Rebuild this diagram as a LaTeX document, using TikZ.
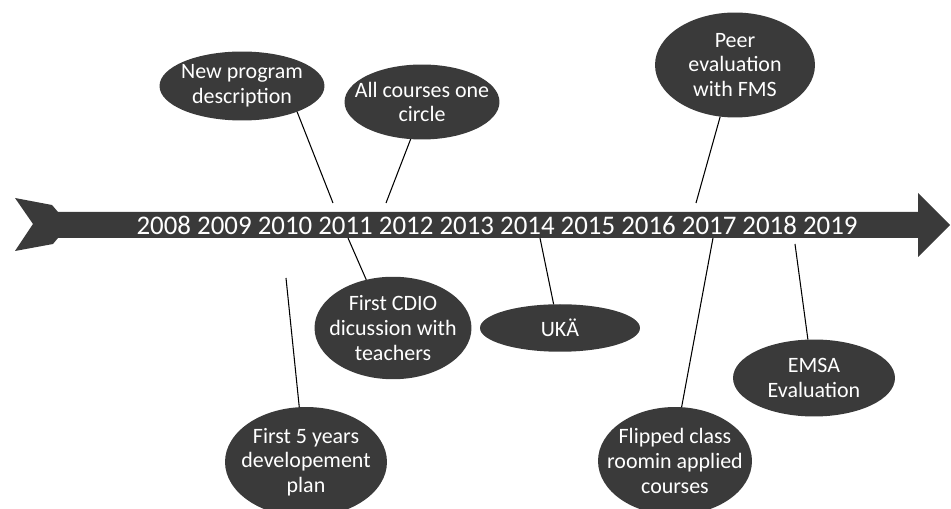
\documentclass[tikz,border=0pt]{standalone}
\usepackage{fontspec}
\setmainfont{Carlito}
\usetikzlibrary{shapes.geometric}
\definecolor{bubblegray}{RGB}{58,58,58}
\begin{document}
\begin{tikzpicture}[x=0.02cm,y=-0.02cm,
    bubble/.style={ellipse,fill=bubblegray,inner sep=0pt,outer sep=0pt},
    bubbletext/.style={text=white,align=center,inner sep=0pt,font=\fontsize{12.5}{14}\selectfont},
    link/.style={black,line width=0.6pt}]
    \clip (0,0) rectangle (951,509);% page size
    \fill[bubblegray] (15,198) -- (52,205) -- (58,212) -- (918,212) -- (918,193) -- (950,225)
        -- (918,257) -- (918,238) -- (58,238) -- (53,244) -- (15,251) -- (33,224) -- cycle;% draw the time arrow
    \node[text=white,inner sep=0pt,font=\fontsize{15.3}{18}\selectfont] (years) at (497,225.5)
        {2008 2009 2010 2011 2012 2013 2014 2015 2016 2017 2018 2019};% the years
    % events above the arrow
    \node[bubble,minimum width=3.3cm,minimum height=1.38cm,label={[bubbletext]center:{New program\\description}}] (np) at (242,86) {};
    \node[bubble,minimum width=3.1cm,minimum height=1.5cm,label={[bubbletext]center:{All courses one\\circle}}] (ac) at (422,102) {};
    \node[bubble,minimum width=3.2cm,minimum height=2.1cm,label={[bubbletext]center:{Peer\\evaluation\\with FMS}}] (pe) at (735,65) {};
    % events below the arrow
    \node[bubble,minimum width=3.14cm,minimum height=2.05cm,label={[bubbletext]center:{First CDIO\\dicussion with\\teachers}}] (cd) at (393,328) {};
    \node[bubble,minimum width=3.2cm,minimum height=0.95cm,label={[bubbletext]center:{UKÄ}}] (uk) at (560,328) {};
    \node[bubble,minimum width=3.24cm,minimum height=2.2cm,label={[bubbletext]center:{First 5 years\\developement\\plan}}] (fy) at (306,462) {};
    \node[bubble,minimum width=3.08cm,minimum height=2.16cm,label={[bubbletext]center:{Flipped class\\roomin applied\\courses}}] (fc) at (675,461) {};
    \node[bubble,minimum width=3.24cm,minimum height=1.54cm,label={[bubbletext]center:{EMSA\\Evaluation}}] (em) at (814,378) {};
    % line ends at the arrow
    \coordinate (t2011) at (333,203);
    \coordinate (t2012) at (386,203);
    \coordinate (t2017) at (696,203);
    \coordinate (b2011) at (348,238);
    \coordinate (b2010) at (286,278);
    \coordinate (b2014) at (540,238);
    \coordinate (b2017) at (713,238);
    \coordinate (b2018) at (795,244);
    \draw[link] (np.-25) -- (t2011);
    \draw[link] (ac.-107) -- (t2012);
    \draw[link] (pe.-106) -- (t2017);
    \draw[link] (cd.119) -- (b2011);
    \draw[link] (uk.105) -- (b2014);
    \draw[link] (fy.97) -- (b2010);
    \draw[link] (fc.83) -- (b2017);
    \draw[link] (em.99) -- (b2018);
\end{tikzpicture}
\end{document}
